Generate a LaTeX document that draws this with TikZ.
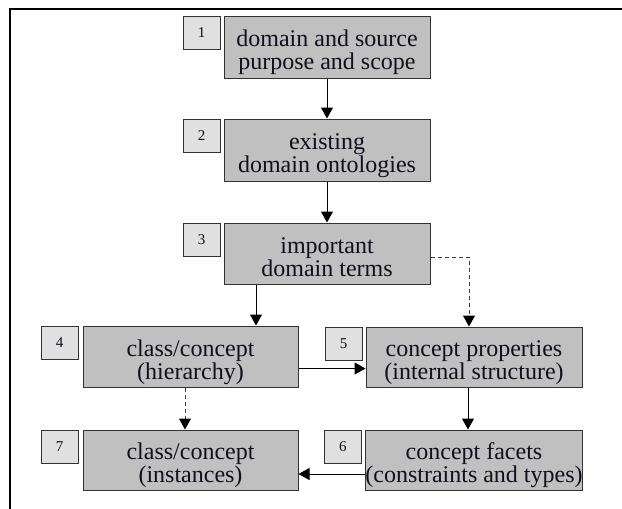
\documentclass[tikz,border=0pt]{standalone}
\usepackage{fontspec}
\setmainfont{Liberation Serif}
\usepackage{tikz}
\usetikzlibrary{positioning,arrows.meta}
\definecolor{boxgray}{RGB}{192,192,192}
\definecolor{numgray}{RGB}{224,224,224}
\definecolor{edgegray}{RGB}{50,50,50}
\definecolor{inkblue}{RGB}{15,15,30}

\begin{document}
\begin{tikzpicture}[x=1pt,y=1pt]
		\tikzstyle{stepbox}=[draw=edgegray, fill=boxgray, line width=1pt, align=center, inner sep=0pt, text=inkblue, font=\fontsize{24}{23}\selectfont, text height=50pt, text depth=5pt]
		\tikzstyle{numbox}=[draw=edgegray, fill=numgray, line width=0.8pt, minimum width=37pt, minimum height=33pt, inner sep=0pt, text=inkblue, font=\fontsize{15}{15}\selectfont]
		\tikzstyle{flow}=[draw=black, line width=1pt, -{Triangle[length=11pt,width=12pt]}]
		\tikzstyle{optflow}=[flow, draw=black!75, dash pattern=on 4pt off 3pt, -{Triangle[length=11pt,width=12pt,color=black]}]
		\useasboundingbox (0,0) rectangle (622,-509);
		\draw [black, line width=1.2pt] (622,-9) -- (10,-9) -- (10,-509);
		\node [stepbox, minimum width=206pt, minimum height=62pt] (b1) at (327,-47) {domain and source\\purpose and scope};
		\node [stepbox, minimum width=206pt, minimum height=62pt] (b2) at (327,-150) {existing\\domain ontologies};
		\node [stepbox, minimum width=206pt, minimum height=61pt] (b3) at (327,-253.5) {important\\domain terms};
		\node [stepbox, minimum width=215pt, minimum height=61pt] (b4) at (190.5,-356.5) {class/concept\\(hierarchy)};
		\node [stepbox, minimum width=216pt, minimum height=60pt] (b5) at (474,-357) {concept properties\\(internal structure)};
		\node [stepbox, minimum width=216pt, minimum height=60pt] (b6) at (474,-460) {concept facets\\(constraints and types)};
		\node [stepbox, minimum width=215pt, minimum height=60pt] (b7) at (190.5,-460) {class/concept\\(instances)};
		\node [numbox, left=3pt of b1.north west, anchor=north east] (n1) {1};
		\node [numbox, left=3pt of b2.north west, anchor=north east] (n2) {2};
		\node [numbox, left=3pt of b3.north west, anchor=north east] (n3) {3};
		\node [numbox, left=4pt of b4.north west, anchor=north east] (n4) {4};
		\node [numbox, left=3pt of b5.north west, anchor=north east] (n5) {5};
		\node [numbox, left=3pt of b6.north west, anchor=north east] (n6) {6};
		\node [numbox, left=4pt of b7.north west, anchor=north east] (n7) {7};
		\draw [flow] (b1.south) -- (b2.north);
		\draw [flow] (b2.south) -- (b3.north);
		\draw [flow] ([xshift=-71pt]b3.south) -- ([xshift=-71pt]b3.south |- b4.north);
		\draw [optflow] ([yshift=-3.5pt]b3.east) -| ([xshift=-5pt]b5.north);
		\draw [flow] ([yshift=-12pt]b4.east) -- ([yshift=-12pt]b4.east -| b5.west);
		\draw [flow] ([xshift=-6pt]b5.south) -- ([xshift=-6pt]b6.north);
		\draw [flow] ([yshift=-14pt]b6.west) -- ([yshift=-14pt]b6.west -| b7.east);
		\draw [optflow] ([xshift=-5.5pt]b4.south) -- ([xshift=-5.5pt]b7.north);
\end{tikzpicture}
\end{document}
